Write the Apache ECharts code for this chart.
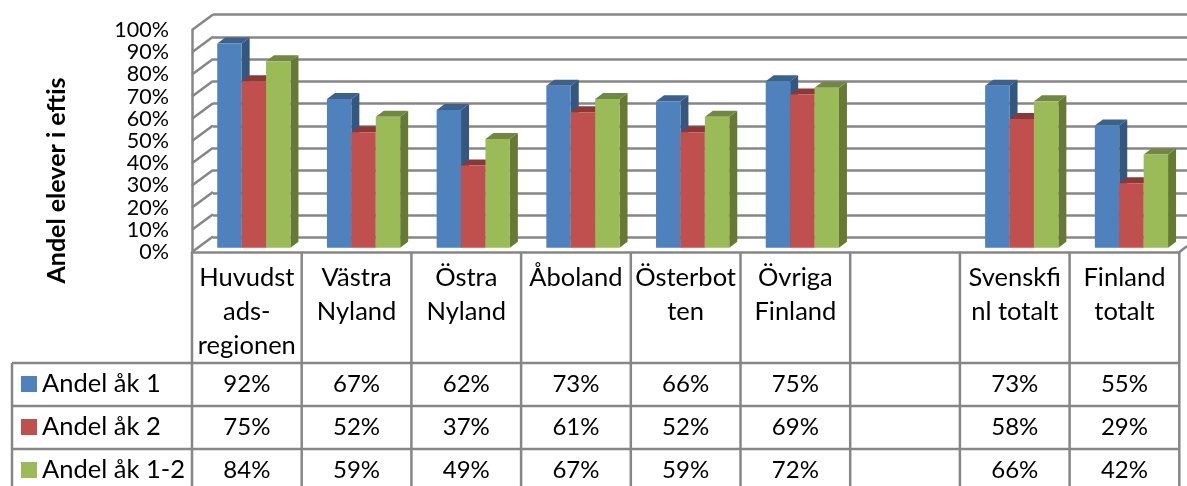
<!DOCTYPE html>
<html>
<head>
<meta charset="utf-8">
<title>Andel elever i eftis</title>
<script src="https://cdn.jsdelivr.net/npm/echarts@6/dist/echarts.min.js"></script>
<style>
html, body { margin: 0; padding: 0; background: #fff; }
#chart { width: 1187px; height: 486px; }
</style>
</head>
<body>
<div id="chart"></div>
<script>
// data
const categories = ['Huvudst\nads-\nregionen', 'Västra\nNyland', 'Östra\nNyland', 'Åboland', 'Österbot\nten', 'Övriga\nFinland', '', 'Svenskfi\nnl totalt', 'Finland\ntotalt'];
const seriesNames = ['Andel åk 1', 'Andel åk 2', 'Andel åk 1-2'];
const andelAk1 = [92, 67, 62, 73, 66, 75, null, 73, 55];
const andelAk2 = [75, 52, 37, 61, 52, 69, null, 58, 29];
const andelAk12 = [84, 59, 49, 67, 59, 72, null, 66, 42];
const yTicks = [0, 10, 20, 30, 40, 50, 60, 70, 80, 90, 100];

const FONT = 'Lato, "Open Sans", sans-serif';
const LINE = '#868686';
const LINE_WIDTH = 2.5;
const GRID_LEFT = 192, GRID_TOP = 30, GRID_WIDTH = 987.3, GRID_HEIGHT = 222;
const WALL_DX = 21, WALL_DY = -15.5;      // side wall depth
const BAR_DX = 7, BAR_DY = -4.3;          // bars stand inside the floor
const BAR_DEPTH_X = 8, BAR_DEPTH_Y = -6;
const BAR_RATIO = 0.2225;                 // bar width / category width
const ROW_LINES = [363, 406, 449];
const ROW_CENTERS = [384, 427, 470];
const TABLE_LEFT = 12;
const VALUE_FONT = 24;
const LABEL_FONT = 25.5;

const colors = [
    { front: '#4f81bd', side: '#34567f', top: '#3a6291' },
    { front: '#c0504d', side: '#8c3836', top: '#8e3836' },
    { front: '#9bbb59', side: '#677a35', top: '#71893f' }
];

// one 3d column: front, side and top faces, placed through the axes
function renderBar(seriesIndex) {
    return function (params, api) {
        const value = api.value(1);
        if (value == null || isNaN(value)) return null;
        const cat = api.value(0);
        const c = colors[seriesIndex];
        const w = api.size([1, 0])[0] * BAR_RATIO;
        const center = api.coord([cat, 0])[0] + BAR_DX;
        const x0 = center - 1.5 * w + seriesIndex * w;
        const x1 = x0 + w;
        const yTop = api.coord([cat, value])[1] + BAR_DY;
        const yBase = api.coord([cat, 0])[1] + BAR_DY;
        return {
            type: 'group',
            children: [
                { type: 'polygon', shape: { points: [[x1, yTop], [x1 + BAR_DEPTH_X, yTop + BAR_DEPTH_Y], [x1 + BAR_DEPTH_X, yBase + BAR_DEPTH_Y], [x1, yBase]] }, style: { fill: c.side } },
                { type: 'polygon', shape: { points: [[x0, yTop], [x0 + BAR_DEPTH_X, yTop + BAR_DEPTH_Y], [x1 + BAR_DEPTH_X, yTop + BAR_DEPTH_Y], [x1, yTop]] }, style: { fill: c.top } },
                { type: 'rect', shape: { x: x0, y: yTop, width: w, height: yBase - yTop }, style: { fill: c.front } }
            ]
        };
    };
}

function barSeries(index, values) {
    return {
        name: seriesNames[index],
        type: 'custom',
        xAxisIndex: 0,
        yAxisIndex: 0,
        clip: false,
        z: 5,
        itemStyle: { color: colors[index].front },
        encode: { x: 0, y: 1 },
        data: values.map((v, i) => [i, v]),
        renderItem: renderBar(index)
    };
}

// diagonal lines of the side wall
function renderWall(params, api) {
    const tick = api.value(1);
    const x = api.coord([0, tick])[0] - api.size([1, 0])[0] / 2;
    const y = api.coord([0, tick])[1];
    return {
        type: 'line',
        shape: { x1: x, y1: y, x2: x + WALL_DX, y2: y + WALL_DY },
        style: { stroke: LINE, lineWidth: LINE_WIDTH }
    };
}

// data table: vertical rules and value cells for one category
function renderTable(params, api) {
    const i = params.dataIndex;
    const band = api.size([1, 0])[0];
    const center = api.coord([i, 0])[0];
    const left = center - band / 2;
    const base = api.coord([i, 0])[1];
    const children = [
        { type: 'line', shape: { x1: left, y1: base, x2: left, y2: 486 }, style: { stroke: LINE, lineWidth: LINE_WIDTH } }
    ];
    if (i === categories.length - 1) {
        const right = left + band;
        children.push({ type: 'line', shape: { x1: right, y1: base, x2: right, y2: 486 }, style: { stroke: LINE, lineWidth: LINE_WIDTH } });
        children.push({ type: 'line', shape: { x1: right, y1: base, x2: right + 8, y2: base - 6 }, style: { stroke: LINE, lineWidth: LINE_WIDTH } });
    }
    [andelAk1, andelAk2, andelAk12].forEach((values, row) => {
        if (values[i] == null) return;
        children.push({
            type: 'text',
            style: {
                text: values[i] + '%',
                x: center,
                y: ROW_CENTERS[row],
                align: 'center',
                verticalAlign: 'middle',
                fill: '#000',
                fontFamily: FONT,
                fontSize: VALUE_FONT
            }
        });
    });
    return { type: 'group', children: children };
}

const chart = echarts.init(document.getElementById('chart'), null, { renderer: 'canvas' });

chart.setOption({
    animation: false,
    backgroundColor: '#fff',
    grid: [
        { left: GRID_LEFT, top: GRID_TOP, width: GRID_WIDTH, height: GRID_HEIGHT },
        { left: GRID_LEFT + WALL_DX, top: GRID_TOP + WALL_DY, right: 0, height: GRID_HEIGHT + 1 }
    ],
    xAxis: [
        {
            type: 'category',
            gridIndex: 0,
            data: categories,
            axisLine: { show: true, lineStyle: { color: LINE, width: LINE_WIDTH } },
            axisTick: { show: false },
            axisLabel: { interval: 0, margin: 9, fontFamily: FONT, fontSize: LABEL_FONT, lineHeight: 34, color: '#000', align: 'center', verticalAlign: 'top' }
        },
        { type: 'category', gridIndex: 1, data: categories, show: false }
    ],
    yAxis: [
        {
            type: 'value',
            gridIndex: 0,
            min: 0,
            max: 100,
            interval: 10,
            axisLine: { show: true, lineStyle: { color: LINE, width: LINE_WIDTH } },
            axisTick: { show: false },
            splitLine: { show: false },
            axisLabel: { margin: 23, formatter: '{value}%', fontFamily: FONT, fontSize: 21.5, color: '#000', padding: [3, 0, 0, 0] }
        },
        {
            type: 'value',
            gridIndex: 1,
            min: 0,
            max: 100,
            interval: 10,
            axisLine: { show: false },
            axisTick: { show: false },
            axisLabel: { show: false },
            splitLine: { show: true, lineStyle: { color: LINE, width: LINE_WIDTH } }
        }
    ],
    legend: {
        data: seriesNames,
        orient: 'vertical',
        left: 21,
        top: 371,
        height: 115,
        width: 170,
        itemWidth: 16,
        itemHeight: 16,
        itemGap: 17,
        icon: 'rect',
        padding: 0,
        selectedMode: false,
        textStyle: { fontFamily: FONT, fontSize: LABEL_FONT, lineHeight: 26, color: '#000', padding: [0, 0, 0, 0] }
    },
    series: [
        {
            type: 'custom',
            xAxisIndex: 0,
            yAxisIndex: 0,
            clip: false,
            z: 1,
            encode: { x: 0, y: 1 },
            data: yTicks.map(t => [0, t]),
            renderItem: renderWall
        },
        {
            type: 'custom',
            xAxisIndex: 0,
            yAxisIndex: 0,
            clip: false,
            z: 2,
            encode: { x: 0 },
            data: categories.map((c, i) => [i]),
            renderItem: renderTable
        },
        barSeries(0, andelAk1),
        barSeries(1, andelAk2),
        barSeries(2, andelAk12)
    ],
    graphic: [
        {
            type: 'text',
            x: 57,
            y: 180.5,
            rotation: Math.PI / 2,
            style: { text: 'Andel elever i eftis', align: 'center', verticalAlign: 'middle', fontFamily: FONT, fontSize: 25, fontWeight: 'bold', fill: '#000' }
        },
        { type: 'line', shape: { x1: TABLE_LEFT, y1: ROW_LINES[0], x2: TABLE_LEFT, y2: 486 }, style: { stroke: LINE, lineWidth: LINE_WIDTH } }
    ].concat(ROW_LINES.map(y => ({
        type: 'line',
        shape: { x1: TABLE_LEFT, y1: y, x2: GRID_LEFT + GRID_WIDTH, y2: y },
        style: { stroke: LINE, lineWidth: LINE_WIDTH }
    })))
});
</script>
</body>
</html>
